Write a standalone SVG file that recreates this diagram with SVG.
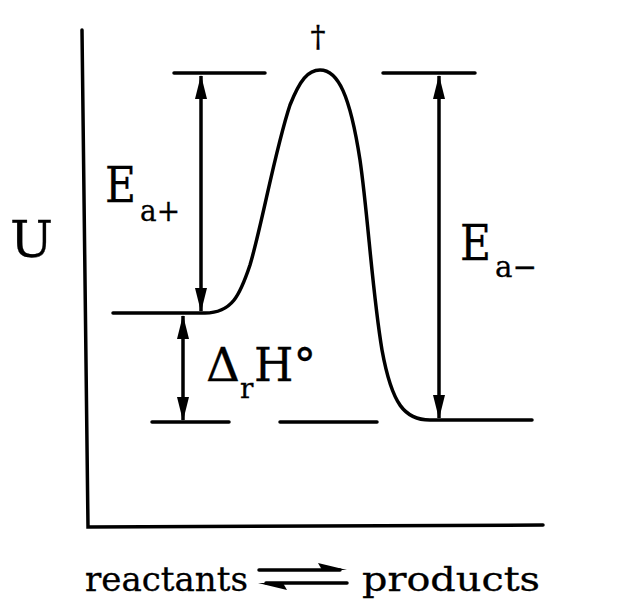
<svg xmlns="http://www.w3.org/2000/svg" width="626" height="602" viewBox="0 0 626 602">
<style>
.ln{stroke:#000;stroke-width:3.5;fill:none;stroke-linecap:round}
.ar{stroke:#000;stroke-width:3.5;fill:none}
text{fill:#000;stroke:#000;stroke-width:0.3}
</style>
<defs>
<marker id="ah" viewBox="0 0 24 12" refX="23" refY="6" markerWidth="24" markerHeight="12" markerUnits="userSpaceOnUse" orient="auto-start-reverse">
<path d="M0,0 L24,6 L0,12 Z" fill="#000"/>
</marker>
</defs>
<rect width="626" height="602" fill="#fff"/>
<g id="axes">
<path class="ln" d="M82,30 L88,527 L543,525"/>
</g>
<g id="levels">
<line class="ln" x1="174" y1="73" x2="265" y2="73"/>
<line class="ln" x1="383" y1="73" x2="475" y2="73"/>
<line class="ln" x1="152" y1="422" x2="229" y2="422"/>
<line class="ln" x1="280" y1="422" x2="377" y2="422"/>
</g>
<g id="curve">
<path class="ln" d="M113,313 L205,313 C232,313 240,295 250,265 C262,225 275,150 290,105 C300,80 308,70 320,70 C338,70 350,95 360,160 C368,215 372,290 382,350 C392,405 405,420 430,420 L532,420"/>
</g>
<g id="connectors">
<line class="ar" x1="201" y1="76" x2="201" y2="311" marker-start="url(#ah)" marker-end="url(#ah)"/>
<line class="ar" x1="439" y1="76" x2="439" y2="418" marker-start="url(#ah)" marker-end="url(#ah)"/>
<line class="ar" x1="183" y1="316" x2="183" y2="420" marker-start="url(#ah)" marker-end="url(#ah)"/>
</g>
<g id="labels" font-family="DejaVu Serif, serif">
<text x="318" y="47" font-size="30" text-anchor="middle">†</text>
<text x="10" y="257" font-size="51" textLength="43" lengthAdjust="spacingAndGlyphs">U</text>
<text x="105" y="202" font-size="48" textLength="31" lengthAdjust="spacingAndGlyphs">E</text>
<text x="140" y="221" font-size="29" textLength="40" lengthAdjust="spacingAndGlyphs">a+</text>
<text x="460" y="260" font-size="48" textLength="31" lengthAdjust="spacingAndGlyphs">E</text>
<text x="495" y="277" font-size="29" textLength="42" lengthAdjust="spacingAndGlyphs">a−</text>
<text x="206" y="381" font-size="46" textLength="34" lengthAdjust="spacingAndGlyphs">Δ</text>
<text x="240" y="398" font-size="28">r</text>
<text x="254" y="381" font-size="46" textLength="62" lengthAdjust="spacingAndGlyphs">H°</text>
</g>
<g id="xlabel" font-family="DejaVu Serif, serif">
<text x="85" y="591" font-size="33" textLength="163" lengthAdjust="spacingAndGlyphs">reactants</text>
<text x="362" y="591" font-size="33" textLength="178" lengthAdjust="spacingAndGlyphs">products</text>
<line class="ln" x1="259" y1="570" x2="340" y2="570" stroke-width="3"/>
<path d="M347,570 L318,563 L322,570 Z" fill="#000"/>
<line class="ln" x1="266" y1="583" x2="347" y2="583" stroke-width="3"/>
<path d="M258,583 L287,590 L283,583 Z" fill="#000"/>
</g>
</svg>
